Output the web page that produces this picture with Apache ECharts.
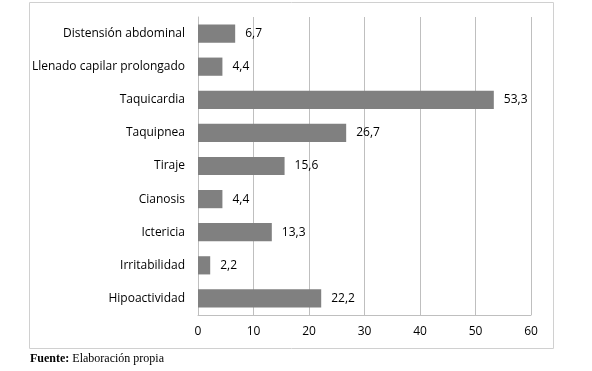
<!DOCTYPE html>
<html><head><meta charset="utf-8">
<script src="https://cdn.jsdelivr.net/npm/echarts@6/dist/echarts.min.js"></script>
<style>html,body{margin:0;padding:0;background:#fff}#c{width:592px;height:371px}</style>
</head><body><div id="c"></div>
<script>
const categories = ["Distensión abdominal","Llenado capilar prolongado","Taquicardia","Taquipnea","Tiraje","Cianosis","Ictericia","Irritabilidad","Hipoactividad"];
const values = [6.7,4.4,53.3,26.7,15.6,4.4,13.3,2.2,22.2];
const xTicks = [0,10,20,30,40,50,60];
const footBold = "Fuente:";
const footText = " Elaboración propia";

const chart = echarts.init(document.getElementById('c'), null, {renderer:'canvas'});
const font = "'Open Sans', 'Liberation Sans', sans-serif";
chart.setOption({
  animation:false,
  grid:{left:198, right:61, top:17, bottom:56, containLabel:false},
  xAxis:{type:'value', min:xTicks[0], max:xTicks[xTicks.length-1], interval:10,
    axisLine:{show:true, lineStyle:{color:'#bfbfbf'}}, axisTick:{show:false},
    splitLine:{show:true, lineStyle:{color:'#bfbfbf'}},
    axisLabel:{color:'#000', fontSize:12, fontFamily:font, margin:11}},
  yAxis:{type:'category', data:categories, inverse:true,
    axisLine:{show:true, lineStyle:{color:'#bfbfbf'}}, axisTick:{show:false},
    axisLabel:{color:'#000', fontSize:12, fontFamily:font, margin:13}},
  series:[{type:'bar', data:values, barWidth:'55%', itemStyle:{color:'#808080'},
    label:{show:true, position:'right', distance:10, color:'#000', fontSize:12, fontFamily:font,
      formatter:p=>String(p.value).replace('.',',')}}],
  graphic:[
    {type:'rect', shape:{x:29.5, y:2.5, width:524, height:346}, style:{fill:'none', stroke:'#d0d0d0', lineWidth:1}, silent:true, z:-1},
    {type:'text', left:30, top:353, style:{rich:{b:{fontWeight:'bold', fontFamily:"'Liberation Serif', serif", fontSize:12, fill:'#000'}, n:{fontFamily:"'Liberation Serif', serif", fontSize:12, fill:'#000'}}, text:'{b|'+footBold+'}{n|'+footText+'}'}}
  ]
});
</script></body></html>
